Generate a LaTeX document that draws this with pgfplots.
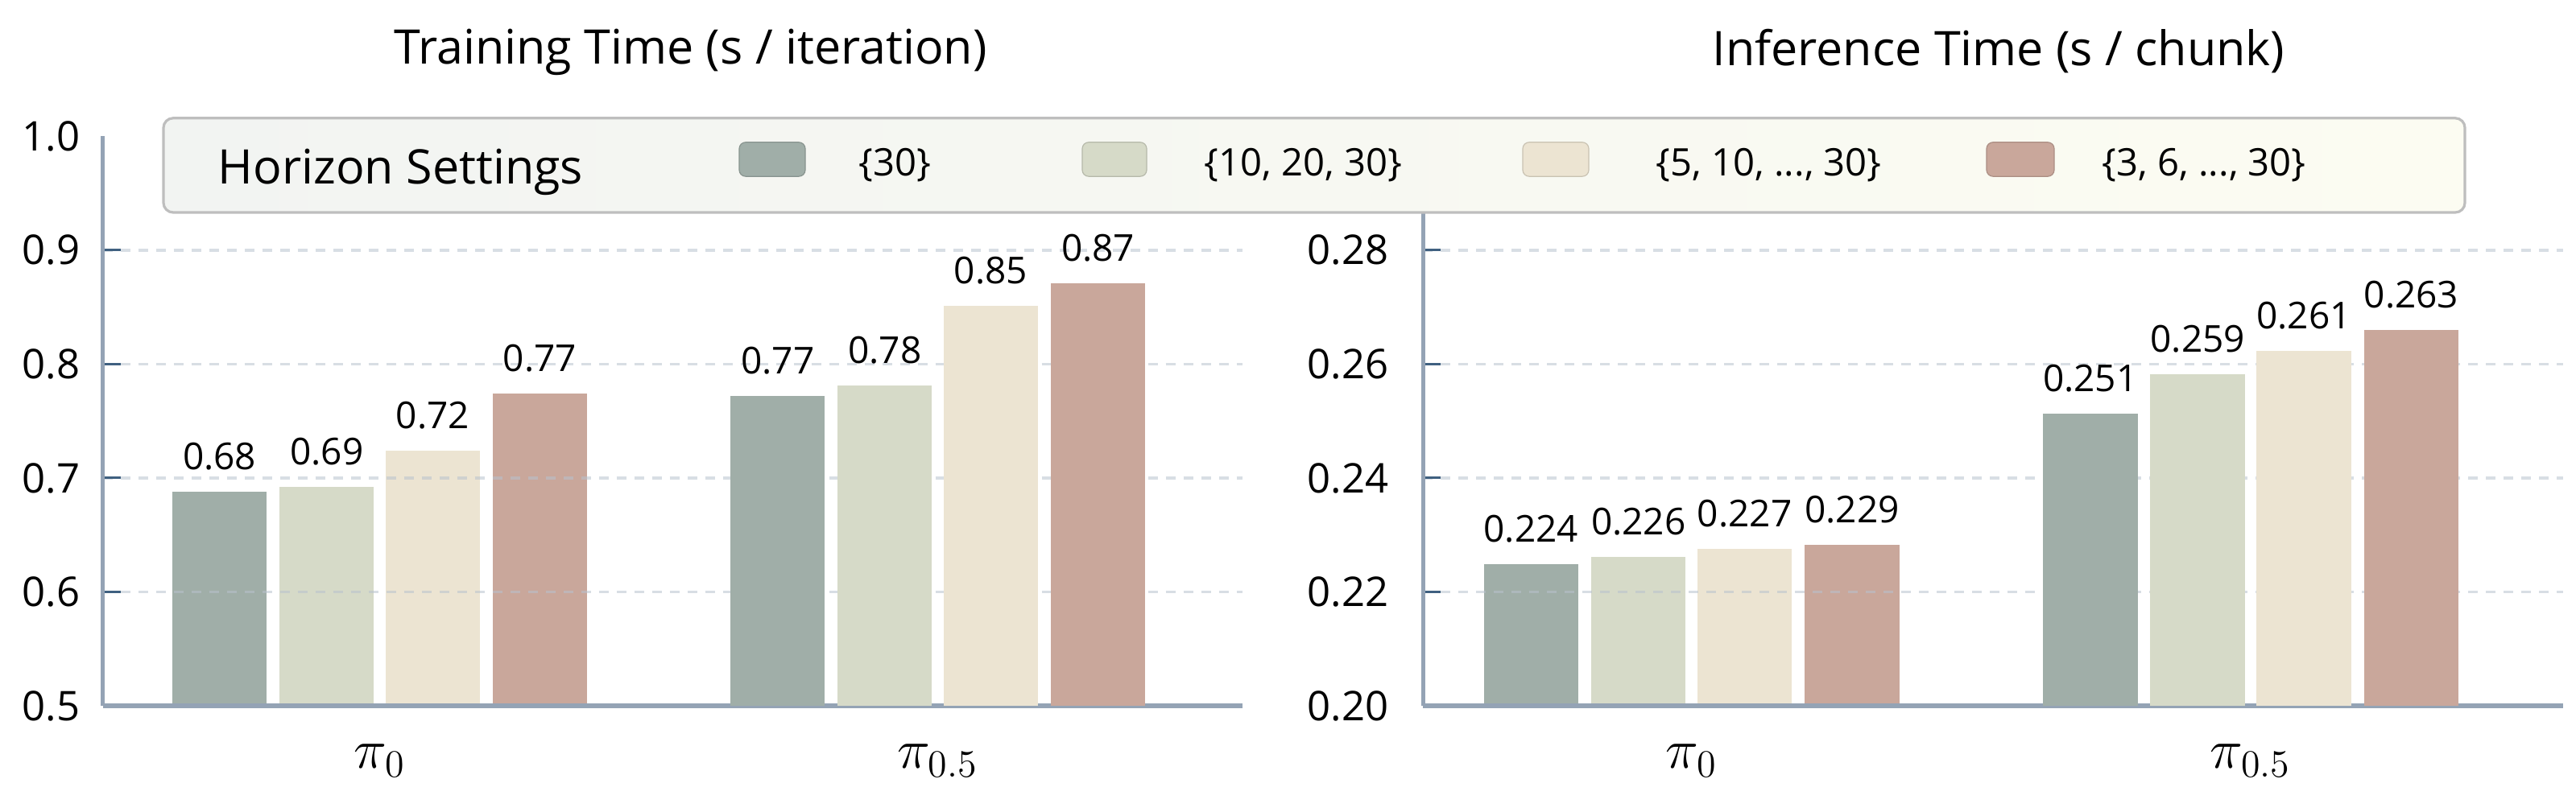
\documentclass[border=0pt]{standalone}
\usepackage{fontspec}
\setmainfont{Open Sans}
\usepackage{pgfplots}
\pgfplotsset{compat=1.18}
\definecolor{cA}{HTML}{A0AEA8}
\definecolor{cB}{HTML}{D6DAC8}
\definecolor{cC}{HTML}{ECE4D2}
\definecolor{cD}{HTML}{C9A79B}
\definecolor{axc}{HTML}{94A3B5}
\definecolor{tickc}{HTML}{3F6080}
\definecolor{gridc}{HTML}{B8C2CE}
\definecolor{legb}{HTML}{BEBEBE}
\definecolor{legL}{HTML}{F2F4F2}
\definecolor{legR}{HTML}{FCFCF2}
\pgfplotsset{
  common/.style={
    set layers,
    scale only axis, width=353.9pt, height=176.9pt,
    anchor=south west,
    axis x line=bottom, axis y line=left,
    axis line style={-},
    x axis line style={axc, line width=1.5pt},
    y axis line style={axc, line width=1.25pt},
    xtick={0,1}, xticklabels={$\pi_0$,$\pi_{0.5}$},
    xtick style={draw=none},
    xticklabel style={font=\fontsize{18}{18}\selectfont, anchor=base, inner sep=0pt, yshift=-19.5pt},
    tick align=inside,
    ytick style={tickc, line width=0.75pt},
    major tick length=5.5pt,
    yticklabel style={font=\fontsize{12.7}{12.7}\selectfont, anchor=east, inner sep=0pt},
    ymajorgrids,
    grid style={gridc, opacity=0.55, line width=0.8pt, dash pattern=on 3.1pt off 2.4pt},
  },
  bars/.style={ybar, bar width=0.169, bar shift=0pt, draw=none, fill=#1},
  bars0/.style={ybar, bar width=0.169, bar shift=0pt, draw=none, fill=#1, on layer=axis background},
  labs/.style={ybar, bar width=0.169, bar shift=0pt, draw=none, fill=none,
    nodes near coords, point meta=explicit symbolic,
    every node near coord/.append style={font=\fontsize{11.5}{11.5}\selectfont, inner sep=0pt, yshift=6.5pt, text=black}},
}
\begin{document}
\begin{tikzpicture}
\path (0,0) rectangle (799.75pt,251pt);
% ---------------- Training time ----------------
\begin{axis}[common,
  at={(31.875pt,31.75pt)},
  xmin=-0.4964, xmax=1.546,
  ymin=0.5, ymax=1.0,
  ytick={0.5,0.6,0.7,0.8,0.9},
  yticklabels={0.5,0.6,0.7,0.8,0.9},
  extra y ticks={1.0}, extra y tick labels={1.0},
  extra y tick style={grid=none, major tick length=0pt},
  yticklabel style={xshift=-6.9pt},
]
\addplot[bars0=cA] coordinates {(-0.287,0.688)};
\addplot[bars0=cB] coordinates {(-0.095,0.692)};
\addplot[bars0=cC] coordinates {(0.095,0.724)};
\addplot[bars0=cD] coordinates {(0.287,0.774)};
\addplot[bars=cA] coordinates {(0.713,0.772)};
\addplot[bars=cB] coordinates {(0.905,0.781)};
\addplot[bars=cC] coordinates {(1.095,0.851)};
\addplot[bars=cD] coordinates {(1.287,0.871)};
\addplot[labs] coordinates {
 (-0.287,0.688) [0.68] (-0.095,0.692) [0.69] (0.095,0.724) [0.72] (0.287,0.774) [0.77]
 (0.713,0.772) [0.77] (0.905,0.781) [0.78] (1.095,0.851) [0.85] (1.287,0.871) [0.87]};
\end{axis}
% ---------------- Inference time ----------------
\begin{axis}[common,
  at={(441.75pt,31.75pt)},
  xmin=-0.4805, xmax=1.558,
  ymin=0.20, ymax=0.30,
  ytick={0.20,0.22,0.24,0.26,0.28},
  yticklabels={0.20,0.22,0.24,0.26,0.28},
  yticklabel style={xshift=-10.5pt},
]
\addplot[bars0=cA] coordinates {(-0.287,0.2249)};
\addplot[bars0=cB] coordinates {(-0.095,0.2262)};
\addplot[bars0=cC] coordinates {(0.095,0.2276)};
\addplot[bars0=cD] coordinates {(0.287,0.2283)};
\addplot[bars=cA] coordinates {(0.713,0.2513)};
\addplot[bars=cB] coordinates {(0.905,0.2582)};
\addplot[bars=cC] coordinates {(1.095,0.2623)};
\addplot[bars=cD] coordinates {(1.287,0.2660)};
\addplot[labs] coordinates {
 (-0.287,0.2249) [0.224] (-0.095,0.2262) [0.226] (0.095,0.2276) [0.227] (0.287,0.2283) [0.229]
 (0.713,0.2513) [0.251] (0.905,0.2582) [0.259] (1.095,0.2623) [0.261] (1.287,0.2660) [0.263]};
\end{axis}
% ---------------- titles ----------------
\node[anchor=base, inner sep=0pt, font=\fontsize{14.8}{14.8}\selectfont] at (214.4pt,231pt) {Training Time (s / iteration)};
\node[anchor=base, inner sep=0pt, font=\fontsize{14.8}{14.8}\selectfont] at (620.5pt,230.5pt) {Inference Time (s / chunk)};
% ---------------- legend ----------------
\draw[draw=legb, line width=0.8pt, rounded corners=3pt, left color=legL, right color=legR] (50.75pt,185pt) rectangle (765.25pt,214.3pt);
\node[anchor=base west, inner sep=0pt, font=\fontsize{14.8}{14.8}\selectfont] at (67.5pt,193.75pt) {Horizon Settings};
\draw[draw=cA!85!black, line width=0.3pt, fill=cA, rounded corners=2pt] (229.5pt,196.2pt) rectangle (250pt,206.8pt);
\draw[draw=cB!85!black, line width=0.3pt, fill=cB, rounded corners=2pt] (336pt,196.2pt) rectangle (356pt,206.8pt);
\draw[draw=cC!85!black, line width=0.3pt, fill=cC, rounded corners=2pt] (472.75pt,196.2pt) rectangle (493.25pt,206.8pt);
\draw[draw=cD!85!black, line width=0.3pt, fill=cD, rounded corners=2pt] (616.75pt,196.2pt) rectangle (637.75pt,206.8pt);
\node[anchor=base west, inner sep=0pt, font=\fontsize{11.8}{11.8}\selectfont] at (266.5pt,196.4pt) {\{30\}};
\node[anchor=base west, inner sep=0pt, font=\fontsize{11.8}{11.8}\selectfont] at (373.75pt,196.4pt) {\{10, 20, 30\}};
\node[anchor=base west, inner sep=0pt, font=\fontsize{11.8}{11.8}\selectfont] at (514pt,196.4pt) {\{5, 10, ..., 30\}};
\node[anchor=base west, inner sep=0pt, font=\fontsize{11.8}{11.8}\selectfont] at (652.5pt,196.4pt) {\{3, 6, ..., 30\}};
\end{tikzpicture}
\end{document}
